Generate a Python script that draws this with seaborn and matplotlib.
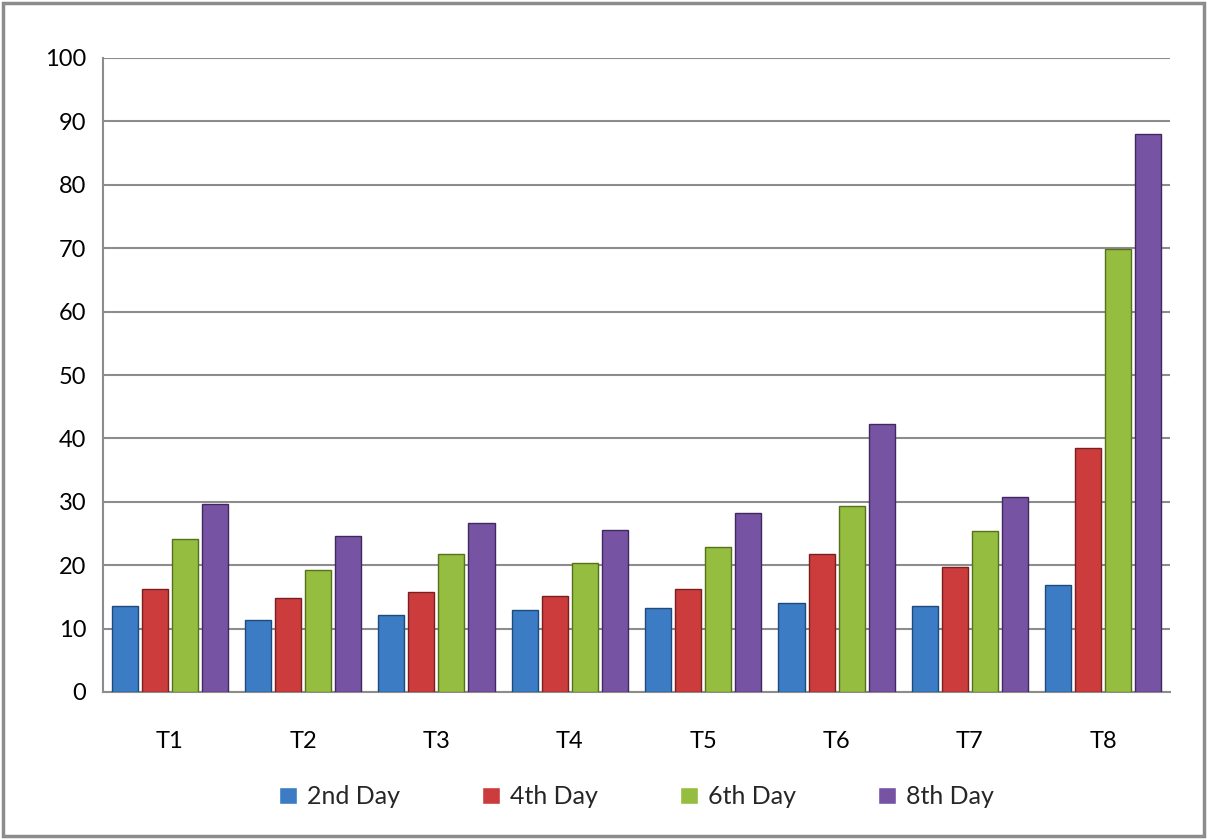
import pandas as pd
import seaborn as sns
import matplotlib.pyplot as plt
from matplotlib.patches import Rectangle

# Values
treatments = ["T1", "T2", "T3", "T4", "T5", "T6", "T7", "T8"]
day2 = [13.5, 11.3, 12.2, 12.9, 13.3, 14.1, 13.5, 16.8]
day4 = [16.2, 14.9, 15.7, 15.2, 16.2, 21.7, 19.7, 38.5]
day6 = [24.2, 19.2, 21.8, 20.4, 22.9, 29.4, 25.4, 69.9]
day8 = [29.6, 24.6, 26.6, 25.5, 28.3, 42.3, 30.8, 88.0]
days = ["2nd Day", "4th Day", "6th Day", "8th Day"]
colors = ["#3b7cc4", "#cc3c3c", "#95bd3f", "#7753a3"]
edges = ["#1f4a7a", "#7a1e1e", "#55701f", "#41295f"]

df = pd.DataFrame({"T": treatments, days[0]: day2, days[1]: day4,
                   days[2]: day6, days[3]: day8})
df = df.melt(id_vars="T", var_name="Day", value_name="Value")

sns.set_style("white")
plt.rcParams['font.family'] = ['Lato', 'DejaVu Sans']

fig = plt.figure(figsize=(12.07, 8.39), dpi=100)
ax = fig.add_axes([103 / 1207, 1 - 692 / 839, (1170 - 103) / 1207, (692 - 58) / 839])

sns.barplot(data=df, x="T", y="Value", hue="Day", palette=colors, saturation=1,
            width=0.9, gap=0.13, ax=ax, legend=True, zorder=3)

# darker outlines per series
for cont, ec in zip(ax.containers, edges):
    for bar in cont:
        bar.set_edgecolor(ec)
        bar.set_linewidth(1.0)

ax.set_ylim(0, 100)
ax.set_xlim(-0.5, 7.5)
ax.set_yticks(range(0, 101, 10))
ax.yaxis.grid(True, color="#8c8c8c", linewidth=1.5, zorder=0)
ax.set_axisbelow(True)
for s in ["top", "right"]:
    ax.spines[s].set_visible(False)
for s in ["left", "bottom"]:
    ax.spines[s].set_color("#8c8c8c")
    ax.spines[s].set_linewidth(1.5)
ax.tick_params(axis="both", length=0, labelsize=17, colors="black")
ax.tick_params(axis="y", pad=12)
ax.tick_params(axis="x", pad=28)
ax.set_xlabel("")
ax.set_ylabel("")

handles, labels = ax.get_legend_handles_labels()
ax.legend(handles, labels, loc="center", bbox_to_anchor=(0.5, -0.165),
          ncol=4, frameon=False, fontsize=18, handlelength=0.7, handleheight=0.7,
          handletextpad=0.4, columnspacing=3.3)

# outer chart border
fig.patches.append(Rectangle((3 / 1207, 3 / 839), 1 - 6 / 1207, 1 - 6 / 839,
                             transform=fig.transFigure, fill=False,
                             edgecolor="#8c8c8c", linewidth=2.5))

fig.savefig("out.png", dpi=100)
